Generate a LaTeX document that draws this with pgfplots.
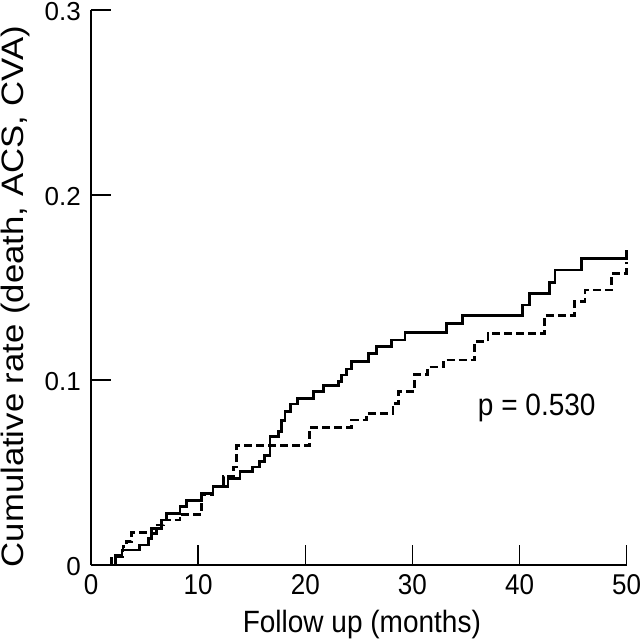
\documentclass[border=0pt]{standalone}
\usepackage{fontspec}
\setmainfont{Liberation Sans}
\usepackage{graphicx}
\usepackage{pgfplots}
\pgfplotsset{compat=1.18}
\newcommand{\vs}[1]{\scalebox{1}[1.1]{#1}}
\begin{document}
\begin{tikzpicture}
\useasboundingbox (-91bp,-75bp) rectangle (549bp,565bp);
\begin{axis}[
  scale only axis,
  width=535.7bp, height=555bp,
  at={(0,0)}, anchor=south west,
  xmin=0, xmax=50, ymin=0, ymax=0.3,
  axis lines=left,
  axis line style={-, line width=1.3bp},
  every tick/.style={line width=1.3bp, black},
  tick align=inside,
  major tick length=20bp,
  xtick={0,10,20,30,40,50},
  ytick={0,0.1,0.2,0.3},
  yticklabels={0,0.1,0.2,0.3},
  xticklabels={\vs{0},\vs{10},\vs{20},\vs{30},\vs{40},\vs{50}},
  xticklabel style={anchor=base, yshift=-29bp, inner sep=0pt, font=\fontsize{26bp}{32bp}\selectfont},
  yticklabel style={anchor=east, inner sep=0pt, yshift=-1.5bp, font=\fontsize{26bp}{32bp}\selectfont},
  yticklabel shift=10bp,
  xlabel={\vs{Follow up (months)}},
  ylabel={\scalebox{1.12}[1]{Cumulative rate (death, ACS, CVA)}},
  every axis x label/.style={at={(axis description cs:0.5,0)}, anchor=base, yshift=-67bp, xshift=3bp, font=\fontsize{28bp}{34bp}\selectfont},
  every axis y label/.style={at={(axis description cs:0,0.5)}, xshift=-67bp, yshift=-9bp, rotate=90, anchor=base, font=\fontsize{31bp}{36bp}\selectfont},
  clip=false,
]
\addplot[const plot, black, line width=2.7bp] coordinates {
(2.3,0) (2.3,0.0054) (2.9,0.0081) (4.5,0.0108) (5.35,0.0144) (5.66,0.0171)
(6.1,0.0198) (6.6,0.0243) (7.06,0.0279) (8.3,0.0315) (8.9,0.035) (10.3,0.0387)
(11.4,0.0423) (12.8,0.0468) (13.9,0.0505) (15.1,0.053) (15.7,0.056) (16.2,0.059)
(16.7,0.0695) (17.5,0.072) (17.8,0.078) (18.1,0.083) (18.6,0.087) (19.3,0.090)
(20.75,0.0937) (21.7,0.097) (23.1,0.099) (23.4,0.1027) (23.85,0.106) (24.3,0.110)
(25.9,0.1144) (26.65,0.118) (28.05,0.1216) (29.3,0.1256) (33.2,0.1306) (34.7,0.135)
(40.3,0.1405) (40.9,0.1469) (42.8,0.1526) (43.3,0.1595) (45.8,0.1658) (50,0.1658) (50,0.1700)
};
\addplot[const plot, black, line width=2.7bp, dash pattern=on 8bp off 4bp] coordinates {
(1.93,0) (1.93,0.0045) (3.0,0.0099) (3.3,0.0126) (3.8,0.0175) (5.66,0.0198)
(5.97,0.0216) (6.75,0.0243) (8.3,0.0273) (10.3,0.0378) (11.4,0.0423) (12.35,0.0477)
(13.3,0.053) (13.6,0.0645) (20.4,0.0742) (24.3,0.0784) (25.7,0.082) (28.2,0.0874)
(28.7,0.0937) (30.2,0.1030) (31.4,0.107) (32.9,0.1108) (35.8,0.1207) (37.05,0.1252)
(42.35,0.135) (45.15,0.1423) (46.1,0.1486) (48.6,0.1577) (50,0.1577) (50,0.1640)
};
\node[anchor=base west, inner sep=0pt, font=\fontsize{28bp}{32bp}\selectfont] at (axis cs:36.1,0.081) {\vs{p = 0.530}};
\end{axis}
\end{tikzpicture}
\end{document}
